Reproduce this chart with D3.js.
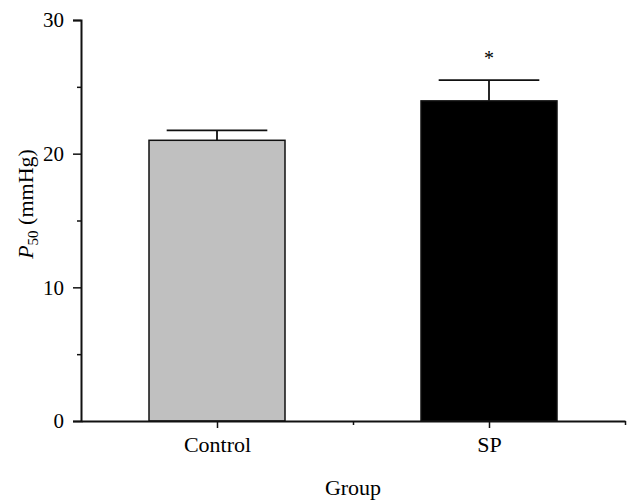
<!DOCTYPE html>
<html>
<head>
<meta charset="utf-8">
<script src="https://cdn.jsdelivr.net/npm/d3@7"></script>
<style>
html,body{margin:0;padding:0;background:#fff;}
svg{display:block;}
text{font-family:"Liberation Serif","Times New Roman",serif;fill:#000;}
</style>
</head>
<body>
<svg id="chart" width="639" height="504"></svg>
<script>
const categories = ["Control", "SP"];
const means = [21.0, 23.95];
const errors = [0.75, 1.55];
const barColors = ["#c0c0c0", "#000000"];
const significance = ["", "*"];
const yTicks = [0, 10, 20, 30];
const yMinorTicks = [5, 15, 25];

const svg = d3.select("#chart");
const x = d3.scaleLinear().domain([0, 4]).range([81, 625]);
const y = d3.scaleLinear().domain([0, 30]).range([421, 20]);
const pos = categories.map((c, i) => 1 + 2 * i);
const barW = x(1) - x(0);
const capW = x(0.37) - x(0);

// bars
svg.selectAll("rect.bar").data(categories).enter().append("rect")
  .attr("class", "bar")
  .attr("x", (d, i) => x(pos[i] - 0.5))
  .attr("width", barW)
  .attr("y", (d, i) => y(means[i]))
  .attr("height", (d, i) => y(0) - y(means[i]))
  .attr("fill", (d, i) => barColors[i])
  .attr("stroke", "#111")
  .attr("stroke-width", 1.5);

// error bars
const eb = svg.selectAll("g.err").data(categories).enter().append("g").attr("class", "err");
eb.append("line")
  .attr("x1", (d, i) => x(pos[i])).attr("x2", (d, i) => x(pos[i]))
  .attr("y1", (d, i) => y(means[i])).attr("y2", (d, i) => y(means[i] + errors[i]))
  .attr("stroke", "#111").attr("stroke-width", 1.8);
eb.append("line")
  .attr("x1", (d, i) => x(pos[i]) - capW).attr("x2", (d, i) => x(pos[i]) + capW)
  .attr("y1", (d, i) => y(means[i] + errors[i])).attr("y2", (d, i) => y(means[i] + errors[i]))
  .attr("stroke", "#111").attr("stroke-width", 1.8);
eb.append("text")
  .attr("x", (d, i) => x(pos[i]))
  .attr("y", (d, i) => y(means[i] + errors[i]) - 15)
  .attr("text-anchor", "middle")
  .attr("font-size", 20)
  .text((d, i) => significance[i]);

// y axis
const yAxis = svg.append("g").attr("transform", `translate(${x(0)},0)`)
  .call(d3.axisLeft(y).tickValues(yTicks).tickSize(8).tickPadding(9).tickFormat(d3.format("d")));
yAxis.selectAll("text").attr("font-size", 21).style("font-family", "Liberation Serif");
svg.append("g").attr("transform", `translate(${x(0)},0)`)
  .call(d3.axisLeft(y).tickValues(yMinorTicks).tickSize(4).tickFormat(""))
  .select(".domain").remove();

// x axis
const xAxis = svg.append("g").attr("transform", `translate(0,${y(0)})`)
  .call(d3.axisBottom(x).tickValues(pos).tickSize(7).tickSizeOuter(0).tickFormat((d, i) => categories[i]));
xAxis.selectAll("text").attr("font-size", 22).attr("y", 31).attr("dy", 0).style("font-family", "Liberation Serif");
svg.append("g").attr("transform", `translate(0,${y(0)})`)
  .call(d3.axisBottom(x).tickValues([2, 4]).tickSize(4).tickFormat(""))
  .select(".domain").remove();

svg.selectAll(".domain").attr("stroke", "#111").attr("stroke-width", 2);
svg.selectAll(".tick line").attr("stroke", "#111").attr("stroke-width", 1.5);

// axis titles
svg.append("text")
  .attr("x", x(2)).attr("y", 495)
  .attr("text-anchor", "middle").attr("font-size", 22)
  .text("Group");

const yl = svg.append("text")
  .attr("transform", "translate(33,204) rotate(-90)")
  .attr("text-anchor", "middle").attr("font-size", 22);
yl.append("tspan").attr("font-style", "italic").text("P");
yl.append("tspan").attr("font-size", 15).attr("dy", 5).text("50");
yl.append("tspan").attr("dy", -5).text(" (mmHg)");
</script>
</body>
</html>
